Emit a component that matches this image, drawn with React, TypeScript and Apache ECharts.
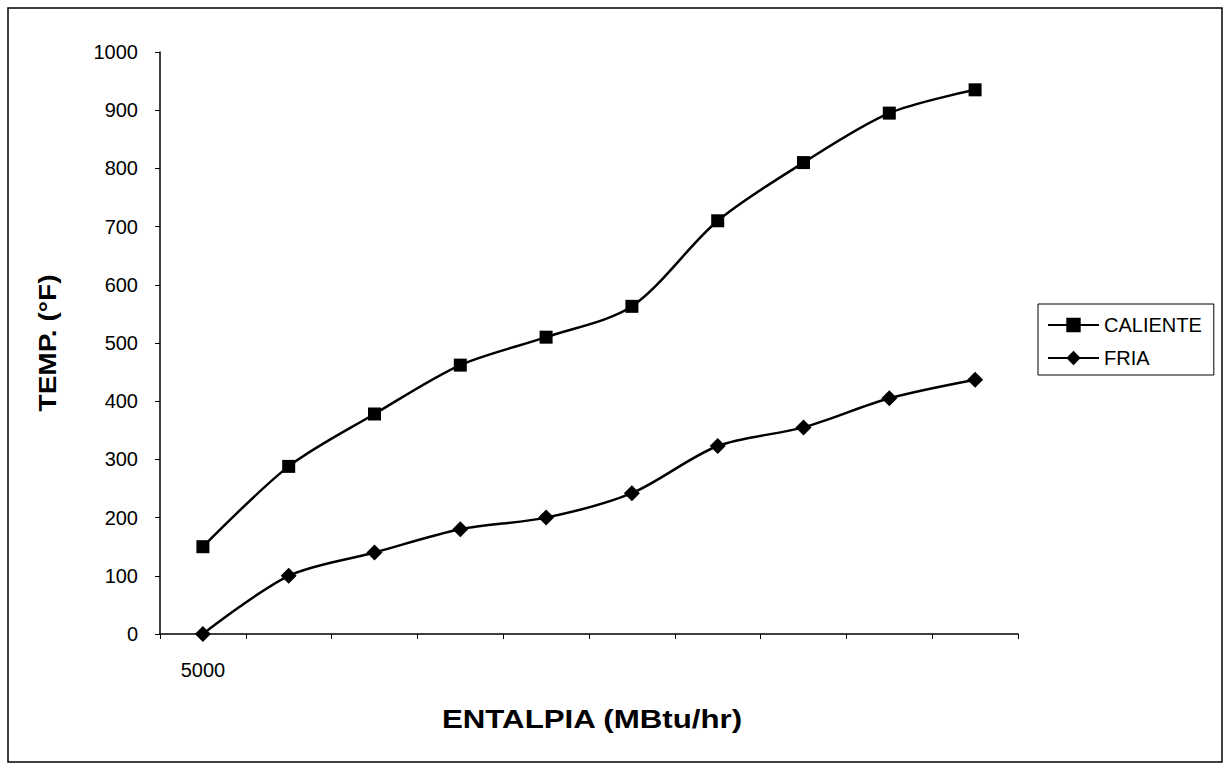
import React, { useEffect, useRef } from "react";
import * as echarts from "echarts";

const categories = ["5000", "", "", "", "", "", "", "", "", ""];
const caliente = [150, 288, 378, 462, 510, 563, 710, 810, 895, 935];
const fria = [0, 100, 140, 180, 200, 242, 323, 355, 405, 437];
const yTicks = { min: 0, max: 1000, interval: 100 };
const xTitle = "ENTALPIA (MBtu/hr)";
const yTitle = "TEMP. (°F)";

export default function App() {
  const ref = useRef<HTMLDivElement>(null);
  useEffect(() => {
    const chart = echarts.init(ref.current!, null, { renderer: "svg" });
    const font = "Arial, 'Liberation Sans', sans-serif";
    chart.setOption({
      animation: false,
      backgroundColor: "#ffffff",
      graphic: [
        {
          type: "rect",
          shape: { x: 8, y: 8, width: 1214, height: 754 },
          style: { fill: "none", stroke: "#000", lineWidth: 1.5 },
          silent: true,
        },
        {
          type: "text",
          x: 592,
          y: 719,
          scaleX: 1.25,
          silent: true,
          style: {
            text: xTitle,
            fontFamily: font,
            fontSize: 25,
            fontWeight: "bold",
            fill: "#000",
            align: "center",
            verticalAlign: "middle",
          },
        },
        {
          type: "text",
          x: 48,
          y: 343,
          rotation: Math.PI / 2,
          scaleX: 1.17,
          silent: true,
          style: {
            text: yTitle,
            fontFamily: font,
            fontSize: 24,
            fontWeight: "bold",
            fill: "#000",
            align: "center",
            verticalAlign: "middle",
          },
        },
      ],
      grid: { left: 160, right: 212, top: 52, bottom: 130 },
      legend: {
        orient: "vertical",
        left: 1038,
        top: 304,
        padding: [11, 12, 7, 9],
        itemGap: 13,
        itemWidth: 51,
        itemHeight: 18,
        borderColor: "#000",
        borderWidth: 1,
        textStyle: { fontFamily: font, fontSize: 20, lineHeight: 20, color: "#000" },
        data: ["CALIENTE", "FRIA"],
      },
      xAxis: {
        type: "category",
        data: categories,
        boundaryGap: true,
        axisLine: { lineStyle: { color: "#000", width: 1.5 } },
        axisTick: { show: true, length: 5, inside: false, interval: 0, lineStyle: { color: "#000" } },
        axisLabel: { interval: 0, margin: 26, fontFamily: font, fontSize: 20, color: "#000" },
        splitLine: { show: false },
      },
      yAxis: {
        type: "value",
        min: yTicks.min,
        max: yTicks.max,
        interval: yTicks.interval,
        axisLine: { show: true, lineStyle: { color: "#000", width: 1.5 } },
        axisTick: { show: true, length: 5, lineStyle: { color: "#000" } },
        axisLabel: {
          margin: 22,
          fontFamily: font,
          fontSize: 20,
          color: "#000",
          formatter: (v: number) => String(v),
        },
        splitLine: { show: false },
      },
      series: [
        {
          name: "CALIENTE",
          type: "line",
          data: caliente,
          smooth: 0.3,
          symbol: "rect",
          symbolSize: 13,
          lineStyle: { color: "#000", width: 2.5 },
          itemStyle: { color: "#000" },
        },
        {
          name: "FRIA",
          type: "line",
          data: fria,
          smooth: 0.3,
          symbol: "diamond",
          symbolSize: 16,
          lineStyle: { color: "#000", width: 2.5 },
          itemStyle: { color: "#000" },
        },
      ],
    });
    return () => chart.dispose();
  }, []);
  return (
    <div
      ref={ref}
      style={{ position: "absolute", left: 0, top: 0, width: 1230, height: 764 }}
    />
  );
}
